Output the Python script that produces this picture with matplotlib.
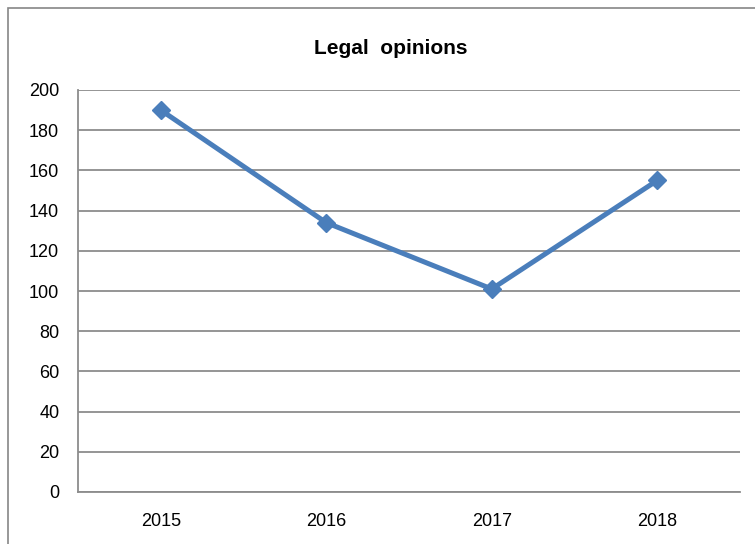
import matplotlib
matplotlib.use('Agg')
import matplotlib.pyplot as plt
from matplotlib.patches import Rectangle

plt.rcParams['font.family'] = ['Liberation Sans Narrow', 'Liberation Sans', 'DejaVu Sans']

# ── Data ──────────────────────────────────────────────────────────
years = ['2015', '2016', '2017', '2018']
opinions = [190, 134, 101, 155]
y_ticks = [0, 20, 40, 60, 80, 100, 120, 140, 160, 180, 200]

LINE = '#4A7EBB'
GRID = '#8C8C8C'

fig = plt.figure(figsize=(7.55, 5.44), dpi=100)
ax = fig.add_axes([78 / 755, 1 - 492 / 544, (740 - 78) / 755, (492 - 90) / 544])

# chart frame (extends past the right and bottom edges)
fig.patches.append(Rectangle((8 / 755, -0.05), 1.2, 1 - 8 / 544 + 0.05,
                             transform=fig.transFigure, fill=False,
                             edgecolor='#868686', linewidth=1.2))

x = range(len(years))
ax.plot(x, opinions, color=LINE, linewidth=3.6, marker='D', markersize=9,
        markerfacecolor=LINE, markeredgecolor=LINE, zorder=3)

ax.set_xlim(-0.5, len(years) - 0.5)
ax.set_ylim(0, 200)
ax.set_yticks(y_ticks)
ax.set_xticks(list(x))
ax.set_xticklabels(years)
ax.yaxis.grid(True, color=GRID, linewidth=1.3)
ax.set_axisbelow(True)

for side in ['top', 'right']:
    ax.spines[side].set_visible(False)
for side in ['left', 'bottom']:
    ax.spines[side].set_color(GRID)
    ax.spines[side].set_linewidth(1.3)
ax.tick_params(axis='both', length=0, labelsize=13, colors='black')
ax.tick_params(axis='y', pad=13.5)
ax.tick_params(axis='x', pad=15)

fig.text(391 / 755, 1 - 48 / 544, 'Legal  opinions', ha='center', va='center',
         fontsize=15, fontweight='bold')

fig.savefig('out.png', dpi=100)
